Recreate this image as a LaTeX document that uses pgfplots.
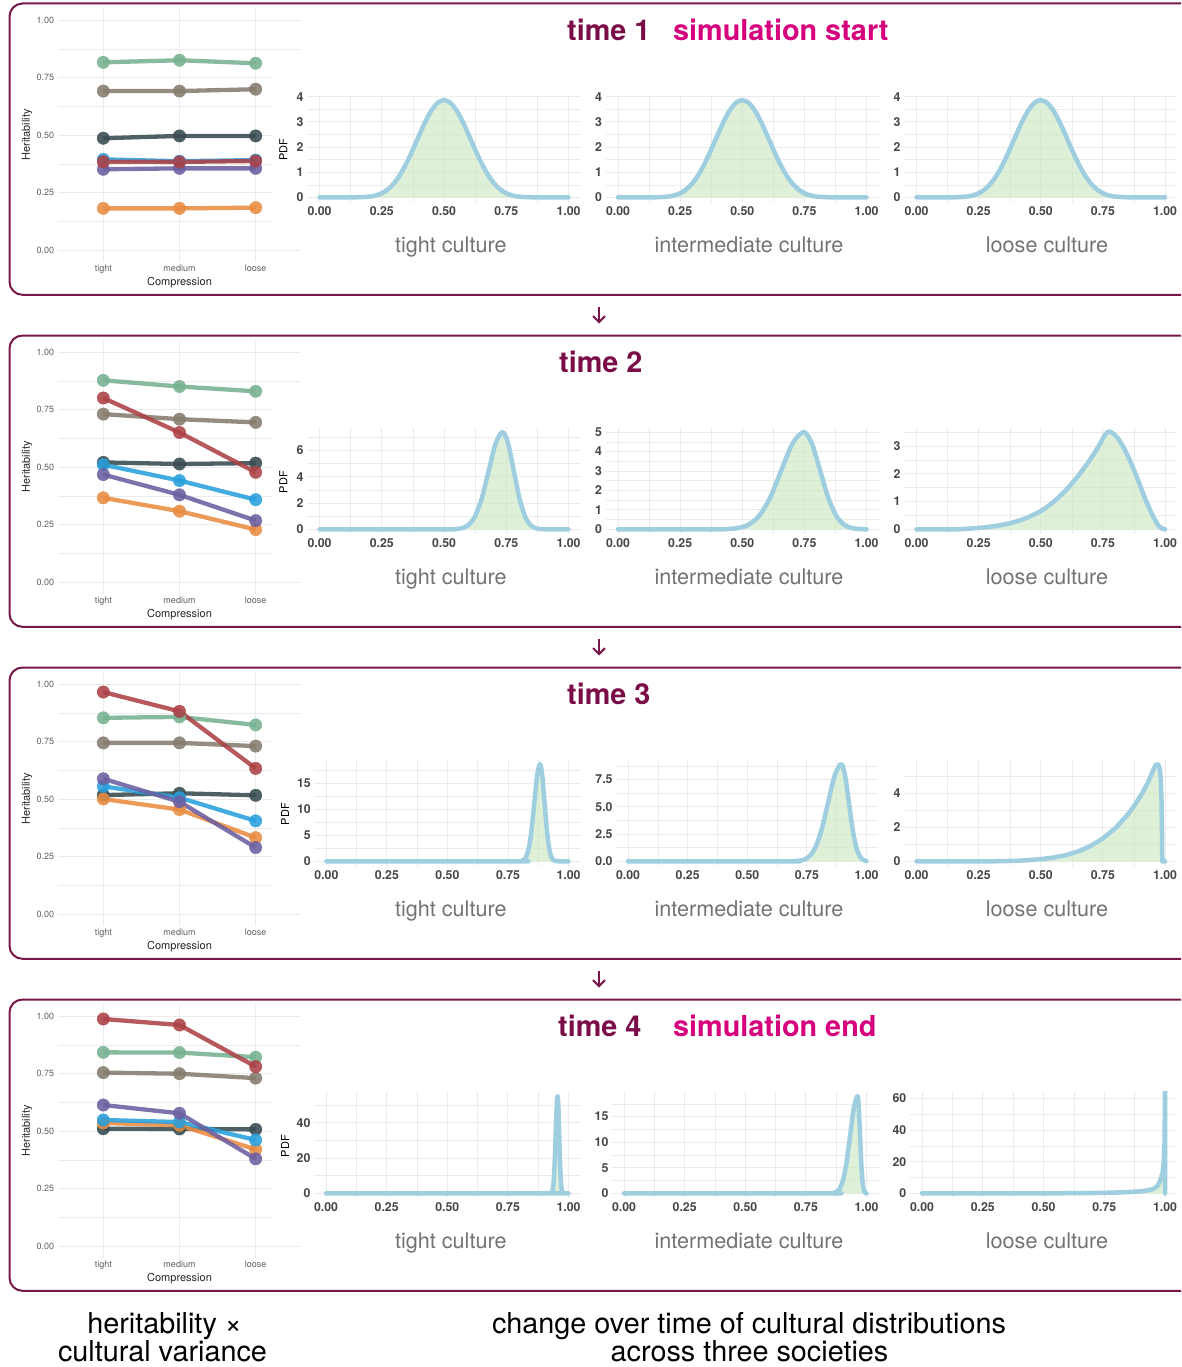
\documentclass[border=0pt]{standalone}
\usepackage{fontspec}
\setmainfont{TeX Gyre Heros}
\usepackage{pgfplots}
\usepackage{pgfplotstable}
\pgfplotsset{compat=1.18}
\usetikzlibrary{arrows.meta}

\definecolor{bordercol}{RGB}{120,24,72}
\definecolor{timecol}{RGB}{122,12,72}
\definecolor{simcol}{RGB}{214,0,125}
\definecolor{gridc}{RGB}{235,235,235}
\definecolor{lineblue}{RGB}{158,206,224}
\definecolor{areagreen}{RGB}{200,230,190}
\definecolor{labgray}{RGB}{115,115,118}
\definecolor{tickc}{RGB}{70,70,70}
\definecolor{htick}{RGB}{95,95,95}
\definecolor{cdark}{RGB}{55,75,80}
\definecolor{cgreen}{RGB}{120,178,145}
\definecolor{ctaupe}{RGB}{133,124,110}
\definecolor{corange}{RGB}{232,140,65}
\definecolor{cblue}{RGB}{40,160,220}
\definecolor{cpurple}{RGB}{108,95,160}
\definecolor{cred}{RGB}{172,65,70}

\newcommand\tickf{\fontsize{12.3}{14}\selectfont\bfseries}
\newcommand\htickf{\fontsize{9}{10}\selectfont}
\newcommand\titlef{\fontsize{28.8}{34}\selectfont\bfseries}
\newcommand\culf{\fontsize{21.6}{26}\selectfont}
\newcommand\smallf{\fontsize{11}{13}\selectfont}
\newcommand\bigf{\fontsize{28.8}{34}\selectfont}

\pgfplotsset{
  pdfax/.style={scale only axis, anchor=south west, height=107pt,
    xmin=-0.05, xmax=1.05,
    xtick={0,0.25,0.5,0.75,1}, xticklabels={0.00,0.25,0.50,0.75,1.00},
    minor xtick={0.125,0.375,0.625,0.875},
    grid=both, major grid style={draw=gridc, line width=0.9pt},
    minor grid style={draw=gridc, line width=0.45pt},
    axis line style={draw=none}, tick style={draw=none},
    tick label style={font=\tickf, text=tickc},
    xticklabel style={yshift=-1.3pt},
    clip=true},
  pdfarea/.style={draw=none, fill=areagreen, fill opacity=0.6},
  pline/.style={draw=lineblue, line width=4.5pt, line join=round, line cap=round},
  herax/.style={scale only axis, anchor=south west, width=243.8pt, height=253pt,
    xmin=0.4, xmax=3.6, ymin=-0.05, ymax=1.05,
    xtick={1,2,3}, xticklabels={tight,medium,loose},
    ytick={0,0.25,0.5,0.75,1}, yticklabels={0.00,0.25,0.50,0.75,1.00},
    minor ytick={0.125,0.375,0.625,0.875},
    grid=both, major grid style={draw=gridc, line width=0.9pt},
    minor grid style={draw=gridc, line width=0.45pt},
    axis line style={draw=none}, tick style={draw=none},
    tick label style={font=\htickf, text=htick}, clip=false},
  hl/.style={color=#1, line width=4.3pt, mark=*, mark size=6.2pt,
    mark options={solid, line width=0.4pt}, opacity=0.88},
}

% heritability data
\pgfplotstableread{
x dark green taupe orange blue purple red
1 0.486 0.816 0.691 0.181 0.394 0.351 0.384
2 0.496 0.825 0.691 0.181 0.386 0.355 0.383
3 0.496 0.812 0.699 0.184 0.391 0.355 0.387
}\hA
\pgfplotstableread{
x dark green taupe orange blue purple red
1 0.520 0.877 0.730 0.366 0.510 0.467 0.800
2 0.513 0.850 0.708 0.308 0.441 0.379 0.650
3 0.517 0.829 0.694 0.228 0.358 0.267 0.477
}\hB
\pgfplotstableread{
x dark green taupe orange blue purple red
1 0.517 0.853 0.744 0.500 0.555 0.588 0.965
2 0.525 0.857 0.744 0.454 0.506 0.488 0.881
3 0.516 0.822 0.730 0.332 0.405 0.289 0.633
}\hC
\pgfplotstableread{
x dark green taupe orange blue purple red
1 0.510 0.842 0.754 0.535 0.548 0.613 0.987
2 0.509 0.841 0.749 0.525 0.539 0.577 0.961
3 0.507 0.821 0.730 0.420 0.461 0.379 0.780
}\hD

% density curves
\pgfplotstableread{
x y
0 0
0.1 0
0.15 0.0023
0.2 0.0285
0.225 0.0736
0.25 0.163
0.275 0.321
0.3 0.568
0.325 0.919
0.35 1.371
0.375 1.902
0.4 2.469
0.425 3.012
0.45 3.464
0.475 3.764
0.5 3.869
0.525 3.764
0.55 3.464
0.575 3.012
0.6 2.469
0.625 1.902
0.65 1.371
0.675 0.919
0.7 0.568
0.725 0.321
0.75 0.163
0.775 0.0736
0.8 0.0285
0.85 0.0023
0.9 0
1 0
}\Tone
\pgfplotstableread{
x y
0 0
0.5 0
0.5425 0.016
0.57 0.082
0.5975 0.325
0.625 1.001
0.6525 2.403
0.68 4.488
0.7075 6.531
0.735 7.4
0.7575 6.531
0.78 4.488
0.8025 2.403
0.825 1.001
0.8475 0.325
0.87 0.082
0.8925 0.016
0.93 0
1 0
}\TBa
\pgfplotstableread{
x y
0 0
0.38 0
0.432 0.011
0.477 0.056
0.522 0.220
0.567 0.677
0.612 1.624
0.657 3.033
0.702 4.413
0.747 5.0
0.780 4.413
0.813 3.033
0.846 1.624
0.879 0.677
0.912 0.220
0.945 0.056
0.978 0.011
1 0
}\TBb
\pgfplotstableread{
x y
0 0
0.15 0
0.2 0.02
0.25 0.05
0.3 0.1
0.35 0.17
0.4 0.28
0.45 0.44
0.5 0.66
0.55 0.98
0.6 1.4
0.65 1.92
0.7 2.53
0.73 2.95
0.768 3.5
0.8 3.38
0.83 3.0
0.86 2.45
0.89 1.8
0.92 1.1
0.95 0.5
0.97 0.18
0.985 0.04
1 0
}\TBc
\pgfplotstableread{
x y
0 0
0.78 0
0.8015 0.041
0.813 0.207
0.8245 0.819
0.836 2.523
0.8475 6.056
0.859 11.311
0.8705 16.459
0.882 18.65
0.8915 16.459
0.901 11.311
0.9105 6.056
0.920 2.523
0.9295 0.819
0.939 0.207
0.9485 0.041
0.97 0
1 0
}\TCa
\pgfplotstableread{
x y
0 0
0.67 0
0.7015 0.020
0.729 0.099
0.7565 0.391
0.784 1.206
0.8115 2.893
0.839 5.404
0.8665 7.863
0.894 8.91
0.910 7.863
0.926 5.404
0.942 2.893
0.958 1.206
0.974 0.391
0.990 0.099
1 0.02
}\TCb
\pgfplotstableread{
x y
0 0
0.3 0
0.4 0.03
0.45 0.07
0.5 0.13
0.55 0.22
0.6 0.36
0.65 0.58
0.7 0.9
0.75 1.35
0.8 1.95
0.85 2.75
0.88 3.35
0.91 4.05
0.93 4.6
0.945 5.1
0.955 5.45
0.962 5.65
0.968 5.72
0.974 5.65
0.979 5.4
0.983 4.8
0.986 3.5
0.988 1.5
0.989 0
1 0
}\TCc
\pgfplotstableread{
x y
0 0
0.92 0
0.927 0.12
0.931 0.61
0.935 2.41
0.939 7.44
0.943 17.86
0.947 33.36
0.951 48.54
0.955 55
0.9583 48.54
0.9616 33.36
0.9649 17.86
0.9682 7.44
0.9715 2.41
0.9748 0.61
0.9781 0.12
0.985 0
1 0
}\TDa
\pgfplotstableread{
x y
0 0
0.84 0
0.858 0.042
0.873 0.211
0.888 0.834
0.903 2.57
0.918 6.17
0.933 11.52
0.948 16.77
0.963 19
0.968 16.77
0.973 11.52
0.978 6.17
0.983 2.57
0.988 0.834
0.993 0.211
0.998 0.042
1 0
}\TDb
\pgfplotstableread{
x y
0 0
0.4 0
0.5 0.02
0.6 0.07
0.7 0.2
0.8 0.5
0.85 0.8
0.9 1.3
0.93 2.0
0.95 2.7
0.96 3.6
0.97 5
0.98 8
0.985 10.5
0.99 13
0.995 20
0.998 32
0.9995 55
1 70
1 0
}\TDc

\begin{document}
\begin{tikzpicture}[x=1pt,y=-1pt]
\useasboundingbox (0,0) rectangle (1181,1367);
\clip (0,0) rectangle (1181,1367);

% ---------- heritability panels ----------
\begin{axis}[herax, at={(57.6pt,-261.5pt)}]
\addplot[hl=cdark] table[x=x,y=dark]{\hA};
\addplot[hl=cgreen] table[x=x,y=green]{\hA};
\addplot[hl=ctaupe] table[x=x,y=taupe]{\hA};
\addplot[hl=corange] table[x=x,y=orange]{\hA};
\addplot[hl=cblue] table[x=x,y=blue]{\hA};
\addplot[hl=cpurple] table[x=x,y=purple]{\hA};
\addplot[hl=cred] table[x=x,y=red]{\hA};
\end{axis}
\begin{axis}[herax, at={(57.6pt,-593.5pt)}]
\addplot[hl=cdark] table[x=x,y=dark]{\hB};
\addplot[hl=cgreen] table[x=x,y=green]{\hB};
\addplot[hl=ctaupe] table[x=x,y=taupe]{\hB};
\addplot[hl=corange] table[x=x,y=orange]{\hB};
\addplot[hl=cblue] table[x=x,y=blue]{\hB};
\addplot[hl=cpurple] table[x=x,y=purple]{\hB};
\addplot[hl=cred] table[x=x,y=red]{\hB};
\end{axis}
\begin{axis}[herax, at={(57.6pt,-925.5pt)}]
\addplot[hl=cdark] table[x=x,y=dark]{\hC};
\addplot[hl=cgreen] table[x=x,y=green]{\hC};
\addplot[hl=ctaupe] table[x=x,y=taupe]{\hC};
\addplot[hl=corange] table[x=x,y=orange]{\hC};
\addplot[hl=cblue] table[x=x,y=blue]{\hC};
\addplot[hl=cpurple] table[x=x,y=purple]{\hC};
\addplot[hl=cred] table[x=x,y=red]{\hC};
\end{axis}
\begin{axis}[herax, at={(57.6pt,-1257.5pt)}]
\addplot[hl=cdark] table[x=x,y=dark]{\hD};
\addplot[hl=cgreen] table[x=x,y=green]{\hD};
\addplot[hl=ctaupe] table[x=x,y=taupe]{\hD};
\addplot[hl=corange] table[x=x,y=orange]{\hD};
\addplot[hl=cblue] table[x=x,y=blue]{\hD};
\addplot[hl=cpurple] table[x=x,y=purple]{\hD};
\addplot[hl=cred] table[x=x,y=red]{\hD};
\end{axis}

% white backgrounds of the density plots
\foreach \k in {0,1,2,3}{
  \fill[white] (273,52+332*\k) rectangle (1181,247+332*\k);
}

% ---------- row 1 ----------
\begin{axis}[pdfax, at={(307.05pt,-202.2pt)}, width=273.9pt, ymin=-0.1935, ymax=4.0635,
  ytick={0,1,2,3,4}, yticklabels={0,1,2,3,4}, minor ytick={0.5,1.5,2.5,3.5}]
\addplot[pdfarea, smooth] table {\Tone} \closedcycle;
\addplot[pline, smooth] table {\Tone};
\end{axis}
\begin{axis}[pdfax, at={(605.6pt,-202.2pt)}, width=273.35pt, ymin=-0.1935, ymax=4.0635,
  ytick={0,1,2,3,4}, yticklabels={0,1,2,3,4}, minor ytick={0.5,1.5,2.5,3.5}]
\addplot[pdfarea, smooth] table {\Tone} \closedcycle;
\addplot[pline, smooth] table {\Tone};
\end{axis}
\begin{axis}[pdfax, at={(904.1pt,-202.2pt)}, width=273.35pt, ymin=-0.1935, ymax=4.0635,
  ytick={0,1,2,3,4}, yticklabels={0,1,2,3,4}, minor ytick={0.5,1.5,2.5,3.5}]
\addplot[pdfarea, smooth] table {\Tone} \closedcycle;
\addplot[pline, smooth] table {\Tone};
\end{axis}

% ---------- row 2 ----------
\begin{axis}[pdfax, at={(307.05pt,-534.2pt)}, width=273.9pt, ymin=-0.37, ymax=7.77,
  ytick={0,2,4,6}, yticklabels={0,2,4,6}, minor ytick={1,3,5,7}]
\addplot[pdfarea, smooth] table {\TBa} \closedcycle;
\addplot[pline, smooth] table {\TBa};
\end{axis}
\begin{axis}[pdfax, at={(605.6pt,-534.2pt)}, width=273.35pt, ymin=-0.25, ymax=5.25,
  ytick={0,1,2,3,4,5}, yticklabels={0,1,2,3,4,5}, minor ytick={0.5,1.5,2.5,3.5,4.5}]
\addplot[pdfarea, smooth] table {\TBb} \closedcycle;
\addplot[pline, smooth] table {\TBb};
\end{axis}
\begin{axis}[pdfax, at={(904.1pt,-534.2pt)}, width=273.35pt, ymin=-0.175, ymax=3.675,
  ytick={0,1,2,3}, yticklabels={0,1,2,3}, minor ytick={0.5,1.5,2.5,3.5}]
\addplot[pdfarea, smooth] table {\TBc} \closedcycle;
\addplot[pline, smooth] table {\TBc};
\end{axis}

% ---------- row 3 ----------
\begin{axis}[pdfax, at={(314.3pt,-866.2pt)}, width=266.3pt, ymin=-0.9325, ymax=19.5825,
  ytick={0,5,10,15}, yticklabels={0,5,10,15}, minor ytick={2.5,7.5,12.5,17.5}]
\addplot[pdfarea, smooth] table {\TCa} \closedcycle;
\addplot[pline, smooth] table {\TCa};
\end{axis}
\begin{axis}[pdfax, at={(616.1pt,-866.2pt)}, width=262.35pt, ymin=-0.4455, ymax=9.3555,
  ytick={0,2.5,5,7.5}, yticklabels={0.0,2.5,5.0,7.5}, minor ytick={1.25,3.75,6.25,8.75}]
\addplot[pdfarea, smooth] table {\TCb} \closedcycle;
\addplot[pline, smooth] table {\TCb};
\end{axis}
\begin{axis}[pdfax, at={(904.1pt,-866.2pt)}, width=273.35pt, ymin=-0.286, ymax=6.006,
  ytick={0,2,4}, yticklabels={0,2,4}, minor ytick={1,3,5}]
\addplot[pdfarea] table {\TCc} \closedcycle;
\addplot[pline] table {\TCc};
\end{axis}

% ---------- row 4 ----------
\begin{axis}[pdfax, at={(313.9pt,-1198.2pt)}, width=266.75pt, ymin=-2.75, ymax=57.75,
  ytick={0,20,40}, yticklabels={0,20,40}, minor ytick={10,30,50}]
\addplot[pdfarea, smooth] table {\TDa} \closedcycle;
\addplot[pline, smooth] table {\TDa};
\end{axis}
\begin{axis}[pdfax, at={(611.9pt,-1198.2pt)}, width=266.75pt, ymin=-0.95, ymax=19.95,
  ytick={0,5,10,15}, yticklabels={0,5,10,15}, minor ytick={2.5,7.5,12.5,17.5}]
\addplot[pdfarea, smooth] table {\TDb} \closedcycle;
\addplot[pline, smooth] table {\TDb};
\end{axis}
\begin{axis}[pdfax, at={(909.85pt,-1198.2pt)}, width=267.3pt, ymin=-3.075, ymax=64.575,
  ytick={0,20,40,60}, yticklabels={0,20,40,60}, minor ytick={10,30,50}]
\addplot[pdfarea] table {\TDc} \closedcycle;
\addplot[pline] table {\TDc};
\end{axis}

% ---------- texts ----------
\begin{scope}[every node/.style={inner sep=0pt}]
\node[anchor=base west, font=\titlef, text=timecol] at (567,40.7) {time 1};
\node[anchor=base west, font=\titlef, text=simcol] at (673,40.7) {simulation start};
\node[anchor=base west, font=\titlef, text=timecol] at (559,372.7) {time 2};
\node[anchor=base west, font=\titlef, text=timecol] at (567,704.7) {time 3};
\node[anchor=base west, font=\titlef, text=timecol] at (558,1036.7) {time 4};
\node[anchor=base west, font=\titlef, text=simcol] at (673,1036.7) {simulation end};

\foreach \k in {0,1,2,3}{
  \node[anchor=base, font=\culf, text=labgray] at (450.8,252.3+332*\k) {tight culture};
  \node[anchor=base, font=\culf, text=labgray] at (749,252.3+332*\k) {intermediate culture};
  \node[anchor=base, font=\culf, text=labgray] at (1047,252.3+332*\k) {loose culture};
  \node[rotate=90, font=\smallf, text=black!85] at (27,135+332*\k) {Heritability};
  \node[anchor=base, font=\smallf, text=black!85] at (179.5,285.7+332*\k) {Compression};
}
\node[rotate=90, font=\smallf] at (283.3,150) {PDF};
\node[rotate=90, font=\smallf] at (283.3,482) {PDF};
\node[rotate=90, font=\smallf] at (285,814) {PDF};
\node[rotate=90, font=\smallf] at (285,1146) {PDF};

\node[anchor=base, font=\bigf] at (164.5,1333.3) {heritability ×};
\node[anchor=base, font=\bigf] at (162.5,1361.7) {cultural variance};
\node[anchor=base, font=\bigf] at (749,1333.3) {change over time of cultural distributions};
\node[anchor=base, font=\bigf] at (749.5,1361.7) {across three societies};
\end{scope}

% ---------- arrows and frames ----------
\foreach \k in {0,1,2}{
  \draw[bordercol, line width=2pt, -{Straight Barb[length=6pt,width=12pt,line width=2pt]}] (599,307+332*\k) -- (599,323.5+332*\k);
}
\foreach \k in {0,1,2,3}{
  \draw[bordercol, line width=2pt, rounded corners=13pt] (9.5,3.5+332*\k) rectangle (1230,294.8+332*\k);
}
\end{tikzpicture}
\end{document}
